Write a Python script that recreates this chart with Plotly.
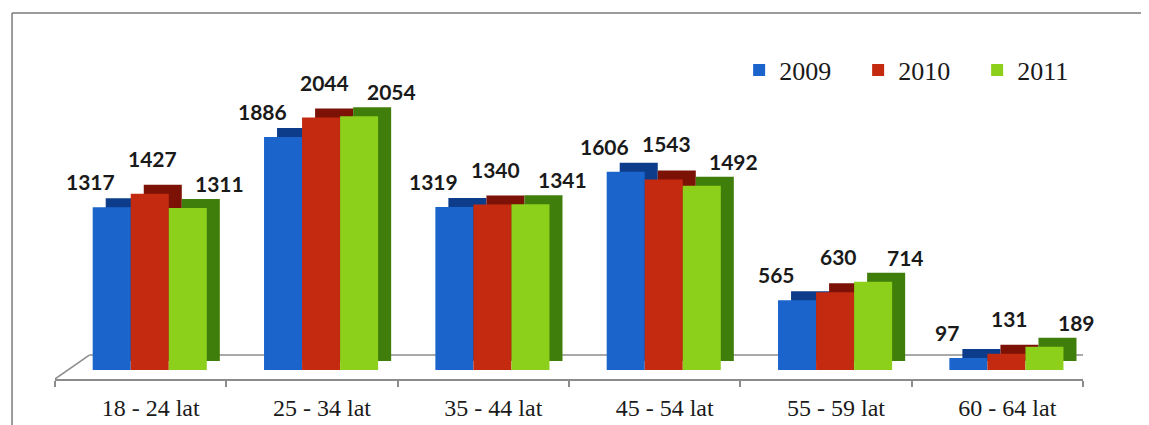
import plotly.graph_objects as go

categories = ["18 - 24 lat", "25 - 34 lat", "35 - 44 lat", "45 - 54 lat", "55 - 59 lat", "60 - 64 lat"]
series_names = ["2009", "2010", "2011"]
v2009 = [1317, 1886, 1319, 1606, 565, 97]
v2010 = [1427, 2044, 1340, 1543, 630, 131]
v2011 = [1311, 2054, 1341, 1492, 714, 189]
series_values = [v2009, v2010, v2011]

front_colors = ["#1A64CB", "#C42A10", "#8DD01C"]
side_colors = ["#0C3C8A", "#7C1206", "#407E0C"]

# geometry (in category units / value units)
BAR_W = 0.222          # bar width in category units
GROUP_SHIFT = 0.053    # group pushed slightly back/right
DEPTH_X = 0.076        # 3-D depth, horizontal
DEPTH_Y = 73           # 3-D depth, vertical (value units)
LABEL_DX = [-21, 3, 32]    # px, label offsets per series
LABEL_DY = [11, 21, 10]    # px above front top

fig = go.Figure()
idx = list(range(len(categories)))

# depth (side/top) boxes first
for i, (vals, sc) in enumerate(zip(series_values, side_colors)):
    off = GROUP_SHIFT - 1.5 * BAR_W + i * BAR_W
    fig.add_trace(go.Bar(
        x=idx, y=vals, base=DEPTH_Y, width=BAR_W, offset=off + DEPTH_X,
        marker=dict(color=sc, line=dict(width=0)),
        showlegend=False, hoverinfo="skip",
    ))
# front faces
for i, (name, vals, fc) in enumerate(zip(series_names, series_values, front_colors)):
    off = GROUP_SHIFT - 1.5 * BAR_W + i * BAR_W
    fig.add_trace(go.Bar(
        x=idx, y=vals, name=name, width=BAR_W, offset=off,
        marker=dict(color=fc, line=dict(width=0)),
    ))
    for k, v in enumerate(vals):
        fig.add_annotation(
            x=k + off + BAR_W / 2, y=v, xref="x", yref="y",
            text=str(v), showarrow=False, yanchor="bottom", xanchor="center",
            xshift=LABEL_DX[i], yshift=LABEL_DY[i],
            font=dict(family="Lato", size=21, color="#1a1a1a", weight="bold"),
        )

# floor (back edge + slanted sides), drawn beneath bars
floor_back = 121
floor_front = -73
line_style = dict(color="#8c8c8c", width=1.5)
fig.add_shape(type="line", xref="x", yref="y", x0=-0.5 + 0.2, x1=5.5 + 0.18,
              y0=floor_back, y1=floor_back, line=line_style, layer="below")
fig.add_shape(type="line", xref="x", yref="y", x0=-0.5, x1=-0.5 + 0.2,
              y0=floor_front, y1=floor_back, line=line_style, layer="below")
fig.add_shape(type="line", xref="x", yref="y", x0=5.5, x1=5.5 + 0.18,
              y0=floor_front, y1=floor_back, line=line_style, layer="below")

fig.update_layout(
    width=1141, height=417,
    margin=dict(l=47, r=66, t=32, b=46, autoexpand=False),
    paper_bgcolor="white", plot_bgcolor="white",
    barmode="overlay",
    showlegend=True,
    legend=dict(orientation="h", x=0.6655, y=0.9115, xanchor="left", yanchor="middle",
                font=dict(family="Liberation Serif", size=26, color="#1a1a1a"),
                bgcolor="rgba(0,0,0,0)", itemwidth=30,
                entrywidth=74, entrywidthmode="pixels"),
)
fig.update_xaxes(
    type="linear", range=[-0.5, 5.5], automargin=False,
    tickmode="array", tickvals=idx, ticktext=categories,
    showline=True, linecolor="#8c8c8c", linewidth=1.5,
    ticks="", showgrid=False, zeroline=False,
    ticklabelshift=10, ticklabelstandoff=6,
    tickfont=dict(family="Liberation Serif", size=24, color="#1a1a1a"),
)
# boundary tick marks via minor ticks
fig.update_xaxes(minor=dict(tickmode="array", tickvals=[k - 0.5 for k in range(len(categories) + 1)],
                            ticks="outside", ticklen=6, tickcolor="#8c8c8c", tickwidth=1.5, showgrid=False))
fig.update_yaxes(range=[floor_front, 2672], visible=False, showgrid=False, zeroline=False, automargin=False)

# outer frame (top and left edges visible in the reference)
fig.add_shape(type="line", xref="paper", yref="paper", x0=-0.0418, x1=1.1, y0=1.0796, y1=1.0796,
              line=dict(color="#7a7a7a", width=1.5))
fig.add_shape(type="line", xref="paper", yref="paper", x0=-0.0418, x1=-0.0418, y0=1.0796, y1=-0.2,
              line=dict(color="#7a7a7a", width=1.5))

fig.write_html("out.html")
